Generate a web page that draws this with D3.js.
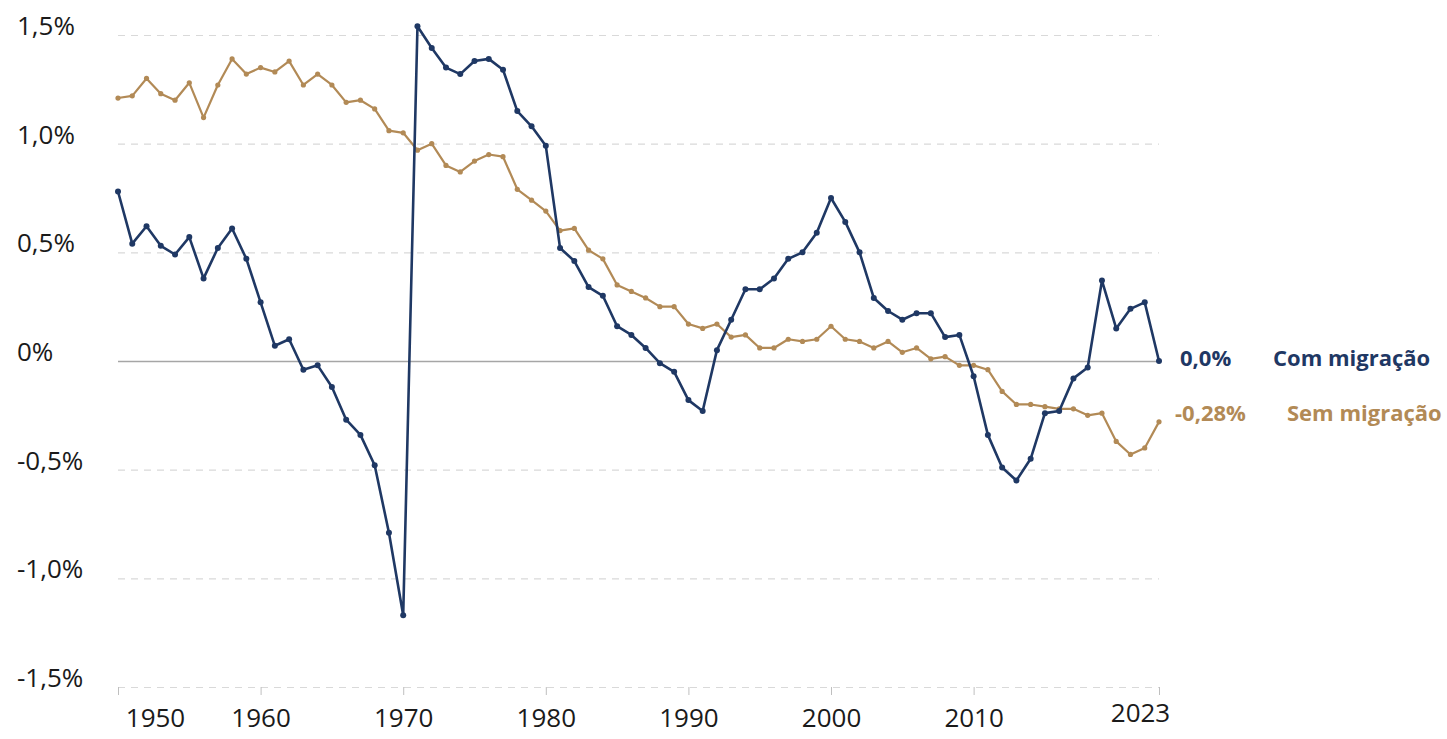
<!DOCTYPE html>
<meta charset="utf-8">
<script src="https://d3js.org/d3.v7.min.js"></script>
<style>
  body { margin: 0; background: #fff; }
  text { font-family: "Open Sans", sans-serif; }
</style>
<div id="chart"></div>
<script>

// data (annual growth rate, %)
var firstYear = 1950, lastYear = 2023;
var years = d3.range(firstYear, lastYear + 1);

var comMigracao = [
  0.78, 0.54, 0.62, 0.53, 0.49, 0.57, 0.38, 0.52, 0.61, 0.47,
  0.27, 0.07, 0.10, -0.04, -0.02, -0.12, -0.27, -0.34, -0.48, -0.79,
  -1.17, 1.54, 1.44, 1.35, 1.32, 1.38, 1.39, 1.34, 1.15, 1.08,
  0.99, 0.52, 0.46, 0.34, 0.30, 0.16, 0.12, 0.06, -0.01, -0.05,
  -0.18, -0.23, 0.05, 0.19, 0.33, 0.33, 0.38, 0.47, 0.50, 0.59,
  0.75, 0.64, 0.50, 0.29, 0.23, 0.19, 0.22, 0.22, 0.11, 0.12,
  -0.07, -0.34, -0.49, -0.55, -0.45, -0.24, -0.23, -0.08, -0.03, 0.37,
  0.15, 0.24, 0.27, 0.00
];

var semMigracao = [
  1.21, 1.22, 1.30, 1.23, 1.20, 1.28, 1.12, 1.27, 1.39, 1.32,
  1.35, 1.33, 1.38, 1.27, 1.32, 1.27, 1.19, 1.20, 1.16, 1.06,
  1.05, 0.97, 1.00, 0.90, 0.87, 0.92, 0.95, 0.94, 0.79, 0.74,
  0.69, 0.60, 0.61, 0.51, 0.47, 0.35, 0.32, 0.29, 0.25, 0.25,
  0.17, 0.15, 0.17, 0.11, 0.12, 0.06, 0.06, 0.10, 0.09, 0.10,
  0.16, 0.10, 0.09, 0.06, 0.09, 0.04, 0.06, 0.01, 0.02, -0.02,
  -0.02, -0.04, -0.14, -0.20, -0.20, -0.21, -0.22, -0.22, -0.25, -0.24,
  -0.37, -0.43, -0.40, -0.28
];

var seriesNames = ["Com migração", "Sem migração"];
var endLabels = ["0,0%", "-0,28%"];
var seriesColors = ["#1f3864", "#b28a56"];

var xTicks = [1950, 1960, 1970, 1980, 1990, 2000, 2010, 2023];
var yTicks = [-1.5, -1.0, -0.5, 0, 0.5, 1.0, 1.5];
var yTickLabels = ["-1,5%", "-1,0%", "-0,5%", "0%", "0,5%", "1,0%", "1,5%"];

// dimensions
var W = 1447, H = 739;
var margin = {top: 35, right: 288, bottom: 52, left: 118};
var width = W - margin.left - margin.right;
var height = H - margin.top - margin.bottom;

var svg = d3.select("#chart")
  .append("svg")
    .attr("width", W)
    .attr("height", H)
  .append("g")
    .attr("transform", "translate(" + margin.left + "," + margin.top + ")");

var x = d3.scaleLinear()
  .domain([firstYear, lastYear])
  .range([0, width]);

var y = d3.scaleLinear()
  .domain([-1.5, 1.5])
  .range([height, 0]);

// Y grid + labels
var yAxis = svg.append("g")
  .call(d3.axisLeft(y)
    .tickValues(yTicks)
    .tickSize(-width)
    .tickFormat(function(d, i) { return yTickLabels[i]; }));
yAxis.select(".domain").remove();
yAxis.selectAll(".tick line")
  .attr("stroke", function(d) { return d === 0 ? "#a6a6a6" : "#d9d9d9"; })
  .attr("stroke-width", function(d) { return d === 0 ? 1.3 : 1.2; })
  .attr("stroke-dasharray", function(d) { return d === 0 ? null : "7,6"; });
yAxis.selectAll(".tick text")
  .attr("x", 17 - margin.left)
  .attr("dy", "-0.02em")
  .attr("text-anchor", "start")
  .attr("fill", "#1a1a1a")
  .style("font-size", "26px");

// X axis
var xAxis = svg.append("g")
  .attr("transform", "translate(0," + height + ")")
  .call(d3.axisBottom(x)
    .tickValues(xTicks)
    .tickSize(8)
    .tickPadding(14)
    .tickFormat(function(d) { return String(d); }));
xAxis.select(".domain").remove();
xAxis.selectAll(".tick line").attr("stroke", "#bfbfbf");
xAxis.selectAll(".tick text")
  .attr("fill", "#1a1a1a")
  .style("font-size", "26px")
  .attr("dx", function(d) { return d === 1950 ? 37 : d === 2023 ? -19 : 0; })
  .attr("dy", function(d) { return d === 2023 ? "0.5em" : "0.71em"; });

// lines
var allSeries = [comMigracao, semMigracao];
var line = d3.line()
  .x(function(d, i) { return x(years[i]); })
  .y(function(d) { return y(d); });

// draw brown first so blue is on top
[1, 0].forEach(function(k) {
  var g = svg.append("g");
  g.append("path")
    .datum(allSeries[k])
    .attr("fill", "none")
    .attr("stroke", seriesColors[k])
    .attr("stroke-width", k === 0 ? 2.6 : 2.2)
    .attr("stroke-linejoin", "round")
    .attr("d", line);
  g.selectAll("circle")
    .data(allSeries[k])
    .enter()
    .append("circle")
      .attr("cx", function(d, i) { return x(years[i]); })
      .attr("cy", function(d) { return y(d); })
      .attr("r", k === 0 ? 3 : 2.6)
      .attr("fill", seriesColors[k]);
});

// end labels
var labelY = [y(comMigracao[comMigracao.length - 1]) - 3, 413 - margin.top];
var valueX = [width + 21, width + 16];
var nameX = [width + 114, width + 128];
[0, 1].forEach(function(k) {
  svg.append("text")
    .attr("x", valueX[k])
    .attr("y", labelY[k])
    .attr("dy", "0.35em")
    .attr("fill", seriesColors[k])
    .style("font-size", "22px")
    .style("font-weight", "bold")
    .text(endLabels[k]);
  svg.append("text")
    .attr("x", nameX[k])
    .attr("y", labelY[k])
    .attr("dy", "0.35em")
    .attr("fill", seriesColors[k])
    .style("font-size", "22px")
    .style("font-weight", "bold")
    .text(seriesNames[k]);
});

</script>
